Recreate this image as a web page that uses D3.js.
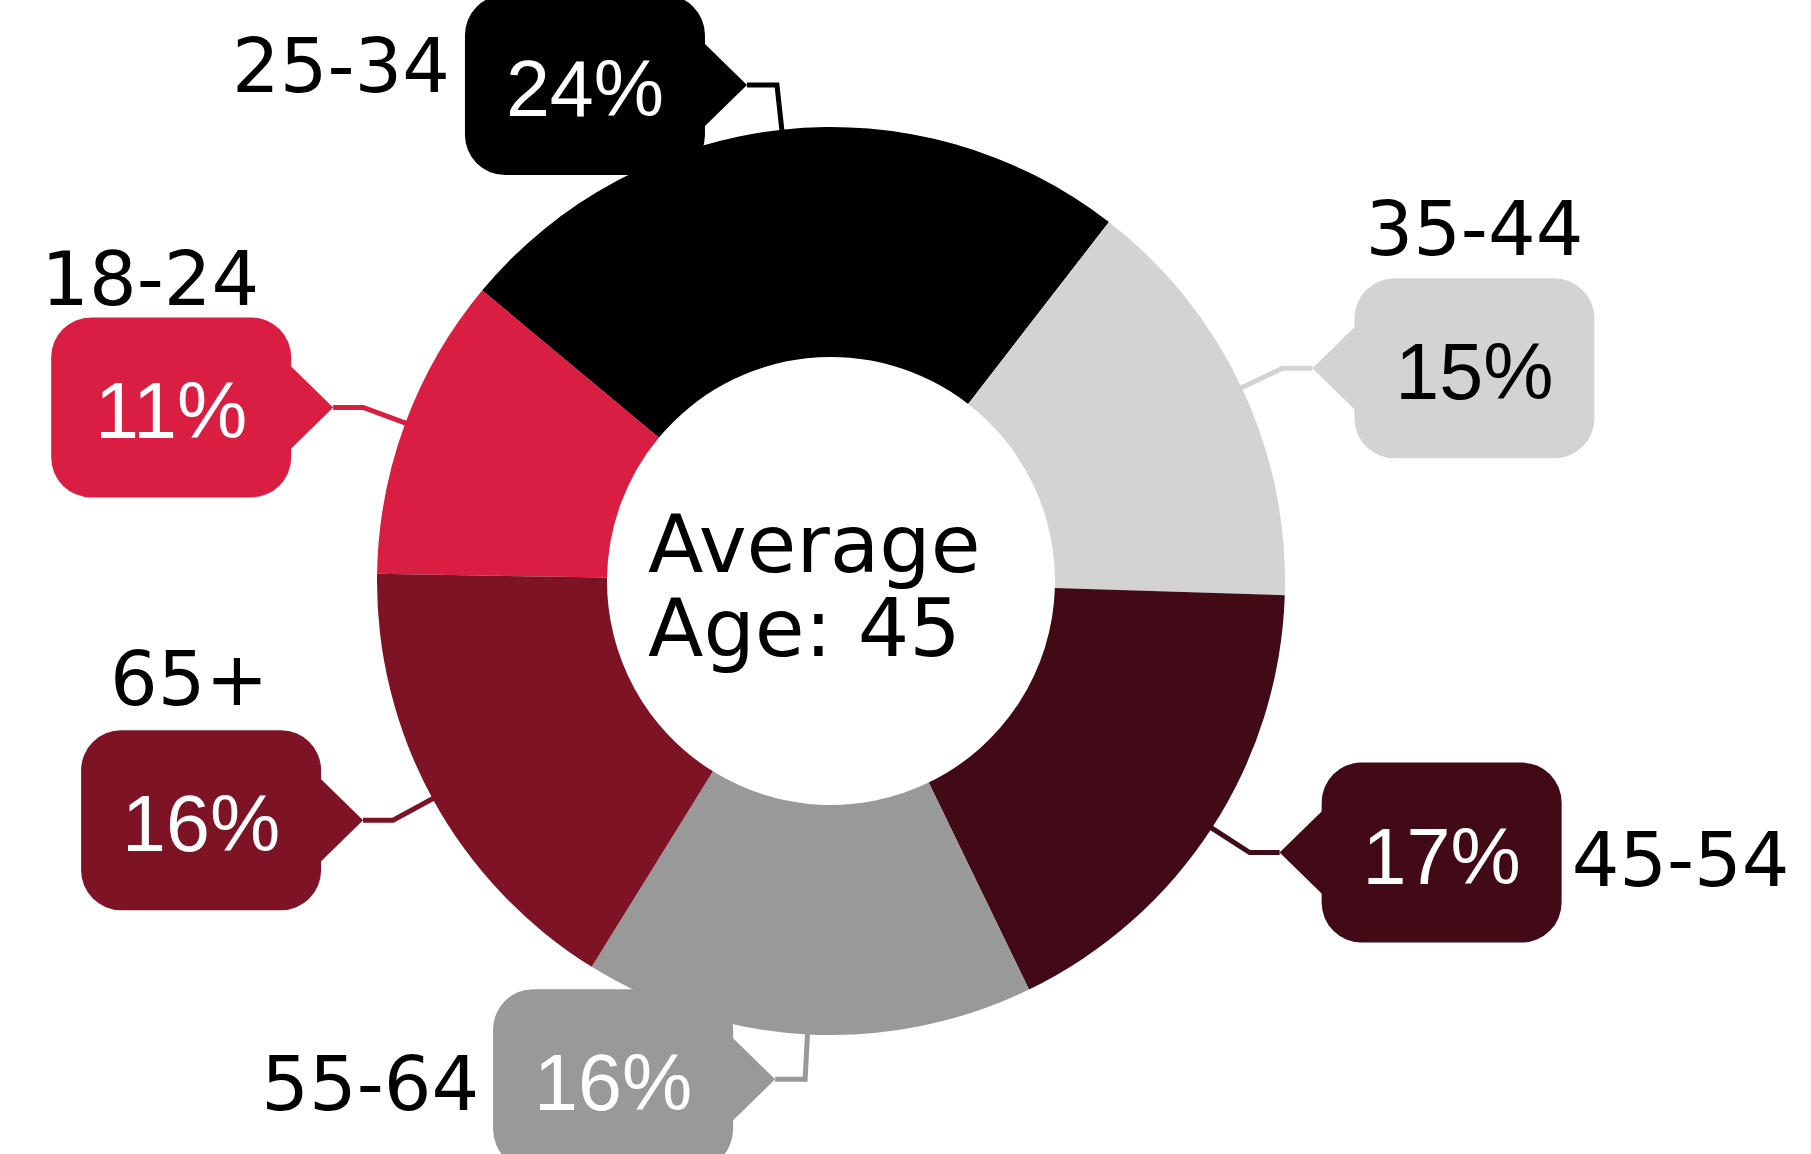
<!DOCTYPE html>
<html>
<head>
<meta charset="utf-8">
<script src="https://cdn.jsdelivr.net/npm/d3@7"></script>
<style>
  html, body { margin: 0; padding: 0; background: #ffffff; }
  svg { display: block; }
</style>
</head>
<body>
<script>
// ---- data ----
const categories = ['18-24', '25-34', '35-44', '45-54', '55-64', '65+'];
const shares = [10.8, 24.4, 15.0, 17.3, 16.0, 16.4];
const sliceColors = ['#D91E41', '#000000', '#D3D3D3', '#410A16', '#999999', '#7E1326'];
const percentTextColors = ['#ffffff', '#ffffff', '#000000', '#ffffff', '#ffffff', '#ffffff'];
const centerLines = ['Average', 'Age: 45'];

// ---- layout (kept apart from data) ----
const W = 1811, H = 1154;
const cx = 831, cy = 581;
const outerR = 454, innerR = 224;
const elbowR = 499, hookLen = 30;
const pointerDepth = 42, pointerHalf = 42;
const boxW = 240, boxH = 180, boxRad = 40;
const startDeg = -89.1;
const labelLayout = [
  { side: 'top', dx: -21, gap: 12 },
  { side: 'left', gap: 15, dy: 7 },
  { side: 'top', dx: 0, gap: 23 },
  { side: 'right', gap: 10, dy: 33 },
  { side: 'left', gap: 14, dy: 31 },
  { side: 'top', dx: -12, gap: 25 }
];

const labelFont = '"DejaVu Sans", sans-serif';
const pctFont = '"Liberation Sans", Arial, sans-serif';

const svg = d3.select('body').append('svg')
  .attr('width', W).attr('height', H)
  .attr('viewBox', `0 0 ${W} ${H}`);
svg.append('rect').attr('width', W).attr('height', H).attr('fill', '#fff');

const g = svg.append('g').attr('transform', `translate(${cx},${cy})`);

const color = d3.scaleOrdinal().domain(categories).range(sliceColors);
const txtColor = d3.scaleOrdinal().domain(categories).range(percentTextColors);

const rows = categories.map((c, i) => ({ cat: c, value: shares[i], idx: i }));

const startA = startDeg * Math.PI / 180;
const pie = d3.pie().sort(null).value(d => d.value)
  .startAngle(startA).endAngle(startA + 2 * Math.PI);
const arcs = pie(rows);

const arc = d3.arc().innerRadius(innerR).outerRadius(outerR);
const edgeArc = d3.arc().innerRadius(outerR - 1).outerRadius(outerR - 1);
const elbowArc = d3.arc().innerRadius(elbowR).outerRadius(elbowR);

// slices
g.selectAll('path.slice').data(arcs).join('path')
  .attr('class', 'slice')
  .attr('d', arc)
  .attr('fill', d => color(d.data.cat));

// callouts
arcs.forEach(d => {
  const cat = d.data.cat;
  const i = d.data.idx;
  const mid = (d.startAngle + d.endAngle) / 2;
  const leftSide = Math.sin(mid) < 0;
  const [ax, ay] = edgeArc.centroid(d);
  const [ex, ey] = elbowArc.centroid(d);
  const tipX = ex + (leftSide ? -hookLen : hookLen);
  const baseX = tipX + (leftSide ? -pointerDepth : pointerDepth);
  const x0 = leftSide ? baseX - boxW : baseX;
  const y0 = ey - boxH / 2;
  const col = color(cat);

  // leader line
  g.append('path')
    .attr('d', d3.line()([[ax, ay], [ex, ey], [tipX, ey]]))
    .attr('fill', 'none')
    .attr('stroke', col)
    .attr('stroke-width', 5)
    .attr('stroke-linejoin', 'miter');

  // box
  g.append('rect')
    .attr('x', x0).attr('y', y0)
    .attr('width', boxW).attr('height', boxH)
    .attr('rx', boxRad).attr('ry', boxRad)
    .attr('fill', col);

  // pointer
  const bx = baseX + (leftSide ? -1 : 1);
  g.append('path')
    .attr('d', d3.line()([[bx, ey - pointerHalf], [tipX, ey], [bx, ey + pointerHalf]]) + 'Z')
    .attr('fill', col);

  // percent
  g.append('text')
    .attr('x', x0 + boxW / 2)
    .attr('y', ey + 31)
    .attr('text-anchor', 'middle')
    .attr('font-family', pctFont)
    .attr('font-size', 79)
    .attr('fill', txtColor(cat))
    .text(Math.round(d.data.value) + '%');

  // category label
  const L = labelLayout[i];
  const t = g.append('text')
    .attr('font-family', labelFont)
    .attr('font-size', 75)
    .attr('fill', '#000')
    .text(cat);
  if (L.side === 'top') {
    t.attr('x', x0 + boxW / 2 + L.dx).attr('y', y0 - L.gap).attr('text-anchor', 'middle');
  } else if (L.side === 'left') {
    t.attr('x', x0 - L.gap).attr('y', ey + L.dy).attr('text-anchor', 'end');
  } else {
    t.attr('x', x0 + boxW + L.gap).attr('y', ey + L.dy).attr('text-anchor', 'start');
  }
});

// center text
g.append('text')
  .attr('font-family', labelFont)
  .attr('font-size', 81)
  .attr('fill', '#000')
  .selectAll('tspan').data(centerLines).join('tspan')
  .attr('x', -183)
  .attr('y', (d, i) => -9 + i * 84)
  .text(d => d);
</script>
</body>
</html>
